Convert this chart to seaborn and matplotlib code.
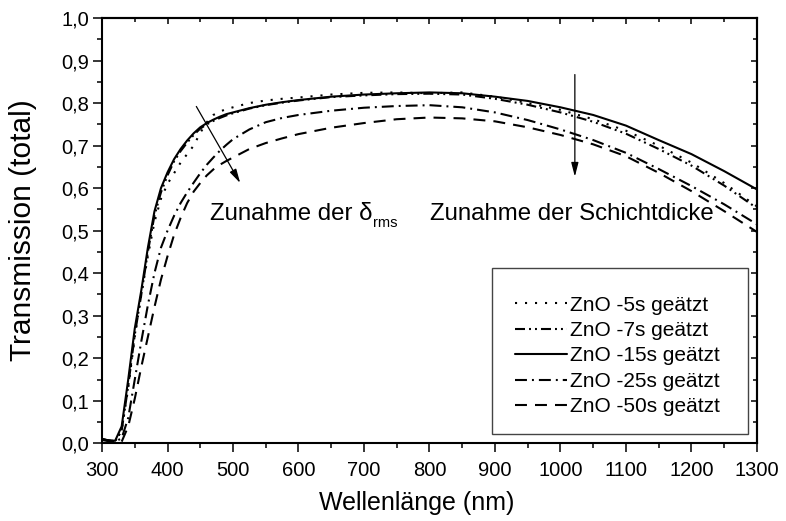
import numpy as np
import pandas as pd
import matplotlib
matplotlib.use("Agg")
import matplotlib.pyplot as plt
from matplotlib.patches import Rectangle
from matplotlib.ticker import MultipleLocator, FuncFormatter
import seaborn as sns

# Wavelength grid (nm)
wavelength = [300, 310, 320, 330, 340, 350, 360, 370, 380, 390, 400, 410, 420, 430,
              440, 450, 460, 470, 480, 490, 500, 525, 550, 575, 600, 650, 700, 750,
              800, 850, 900, 950, 1000, 1050, 1100, 1150, 1200, 1250, 1300]

# Total transmission of the etched ZnO films
t_5s = [0.010, 0.008, 0.005, 0.030, 0.130, 0.250, 0.350, 0.440, 0.520, 0.575, 0.610,
        0.635, 0.660, 0.680, 0.700, 0.730, 0.755, 0.772, 0.780, 0.786, 0.790, 0.800,
        0.806, 0.810, 0.813, 0.820, 0.824, 0.825, 0.823, 0.825, 0.815, 0.800, 0.784,
        0.762, 0.735, 0.700, 0.660, 0.612, 0.557]
t_7s = [0.010, 0.007, 0.005, 0.030, 0.135, 0.255, 0.350, 0.450, 0.535, 0.590, 0.630,
        0.663, 0.687, 0.707, 0.725, 0.740, 0.750, 0.758, 0.765, 0.771, 0.776, 0.787,
        0.795, 0.801, 0.806, 0.814, 0.818, 0.821, 0.822, 0.820, 0.810, 0.796, 0.778,
        0.756, 0.728, 0.692, 0.653, 0.606, 0.553]
t_15s = [0.010, 0.007, 0.006, 0.040, 0.150, 0.270, 0.360, 0.460, 0.545, 0.600, 0.637,
         0.668, 0.692, 0.712, 0.729, 0.743, 0.753, 0.761, 0.768, 0.774, 0.778, 0.788,
         0.796, 0.802, 0.807, 0.815, 0.820, 0.823, 0.825, 0.823, 0.815, 0.805, 0.790,
         0.772, 0.747, 0.713, 0.680, 0.640, 0.597]
t_25s = [0.010, 0.007, 0.004, 0.012, 0.060, 0.150, 0.240, 0.325, 0.400, 0.460, 0.500,
         0.535, 0.565, 0.590, 0.613, 0.635, 0.655, 0.672, 0.688, 0.702, 0.715, 0.738,
         0.755, 0.765, 0.772, 0.782, 0.789, 0.793, 0.795, 0.790, 0.778, 0.760, 0.738,
         0.713, 0.683, 0.645, 0.605, 0.562, 0.515]
t_50s = [0.008, 0.005, 0.002, 0.004, 0.040, 0.105, 0.180, 0.250, 0.320, 0.385, 0.440,
         0.490, 0.530, 0.565, 0.592, 0.612, 0.630, 0.644, 0.655, 0.664, 0.672, 0.692,
         0.706, 0.717, 0.727, 0.742, 0.753, 0.762, 0.766, 0.764, 0.757, 0.743, 0.725,
         0.703, 0.675, 0.636, 0.593, 0.546, 0.497]

labels = ["ZnO -5s geätzt", "ZnO -7s geätzt", "ZnO -15s geätzt",
          "ZnO -25s geätzt", "ZnO -50s geätzt"]

df = pd.DataFrame({"wl": wavelength, "5s": t_5s, "7s": t_7s, "15s": t_15s,
                   "25s": t_25s, "50s": t_50s})

sns.set_theme(style="ticks")
plt.rcParams["font.family"] = ["Liberation Sans", "DejaVu Sans"]
plt.rcParams["lines.scale_dashes"] = False

fig = plt.figure(figsize=(7.86, 5.21), dpi=100)
ax = fig.add_axes([0.1298, 0.149, 0.8332, 0.8165])

styles = {
    "5s": (0, (1.5, 5.7)),
    "7s": (0, (7.2, 2.9, 1.4, 2.9, 1.4, 2.9)),
    "15s": "-",
    "25s": (0, (8.6, 3.6, 1.4, 3.6)),
    "50s": (0, (8.6, 5.8)),
}
for col, lab in zip(["5s", "7s", "15s", "25s", "50s"], labels):
    sns.lineplot(data=df, x="wl", y=col, ax=ax, color="black", lw=1.5,
                 linestyle=styles[col], label=lab)

ax.set_xlim(300, 1300)
ax.set_ylim(0, 1.0)
ax.xaxis.set_major_locator(MultipleLocator(100))
ax.xaxis.set_minor_locator(MultipleLocator(50))
ax.yaxis.set_major_locator(MultipleLocator(0.1))
ax.yaxis.set_minor_locator(MultipleLocator(0.05))
ax.yaxis.set_major_formatter(FuncFormatter(lambda v, p: f"{v:.1f}".replace(".", ",")))
ax.tick_params(which="major", direction="out", length=6.5, width=1.1, labelsize=14.5,
               color="black", labelcolor="black")
ax.tick_params(which="minor", direction="out", length=3.5, width=1.1, color="black")
ax.tick_params(axis="x", which="major", pad=6)
ax.tick_params(axis="y", which="major", pad=3)

for s in ax.spines.values():
    s.set_visible(True)
    s.set_linewidth(1.5)
    s.set_color("black")

# Mirrored inward ticks on the top and right edges
top = ax.secondary_xaxis("top")
top.xaxis.set_major_locator(MultipleLocator(100))
top.xaxis.set_minor_locator(MultipleLocator(50))
top.tick_params(which="both", direction="in", labeltop=False, width=1.1, color="black")
top.tick_params(which="major", length=4.5)
top.tick_params(which="minor", length=3)
top.spines["top"].set_linewidth(1.5)
right = ax.secondary_yaxis("right")
right.yaxis.set_major_locator(MultipleLocator(0.1))
right.yaxis.set_minor_locator(MultipleLocator(0.05))
right.tick_params(which="both", direction="in", labelright=False, width=1.1, color="black")
right.tick_params(which="major", length=4.5)
right.tick_params(which="minor", length=3)
right.spines["right"].set_linewidth(1.5)

ax.set_xlabel("Wellenlänge (nm)", fontsize=18, color="black")
ax.set_ylabel("Transmission (total)", fontsize=21.5, color="black")
ax.xaxis.set_label_coords(0.4805, -0.112)
ax.yaxis.set_label_coords(-0.100, 0.502)

# Trend annotations
ax.annotate("", xy=(511, 0.612), xytext=(444, 0.792),
            arrowprops=dict(arrowstyle="-|>,head_length=0.7,head_width=0.18",
                            color="black", lw=0.9, shrinkA=0, shrinkB=0))
ax.annotate("", xy=(1022, 0.627), xytext=(1022, 0.867),
            arrowprops=dict(arrowstyle="-|>,head_length=0.7,head_width=0.18",
                            color="black", lw=0.9, shrinkA=0, shrinkB=0))
t1 = ax.text(465, 0.54, "Zunahme der δ", fontsize=17.3,
             va="center", ha="left", color="black")
ax.annotate("rms", xy=(1, 0), xycoords=t1, xytext=(0.5, 1.5),
            textcoords="offset points", fontsize=10.5, va="center", ha="left",
            color="black")
ax.text(801, 0.54, "Zunahme der Schichtdicke", fontsize=17.3,
        va="center", ha="left", color="black")

# Legend: framed box with the entries set inside it
ax.add_patch(Rectangle((0.595, 0.022), 0.391, 0.39, transform=ax.transAxes,
                       facecolor="white", edgecolor="#444444", lw=1.0, zorder=4.5))
leg = ax.legend(loc="upper left", bbox_to_anchor=(0.6305, 0.3476),
                fontsize=15, handlelength=2.5, handletextpad=0.15,
                labelspacing=0.31, borderpad=0, frameon=False, borderaxespad=0)
for t in leg.get_texts():
    t.set_color("black")

fig.savefig("out.png", dpi=100)
